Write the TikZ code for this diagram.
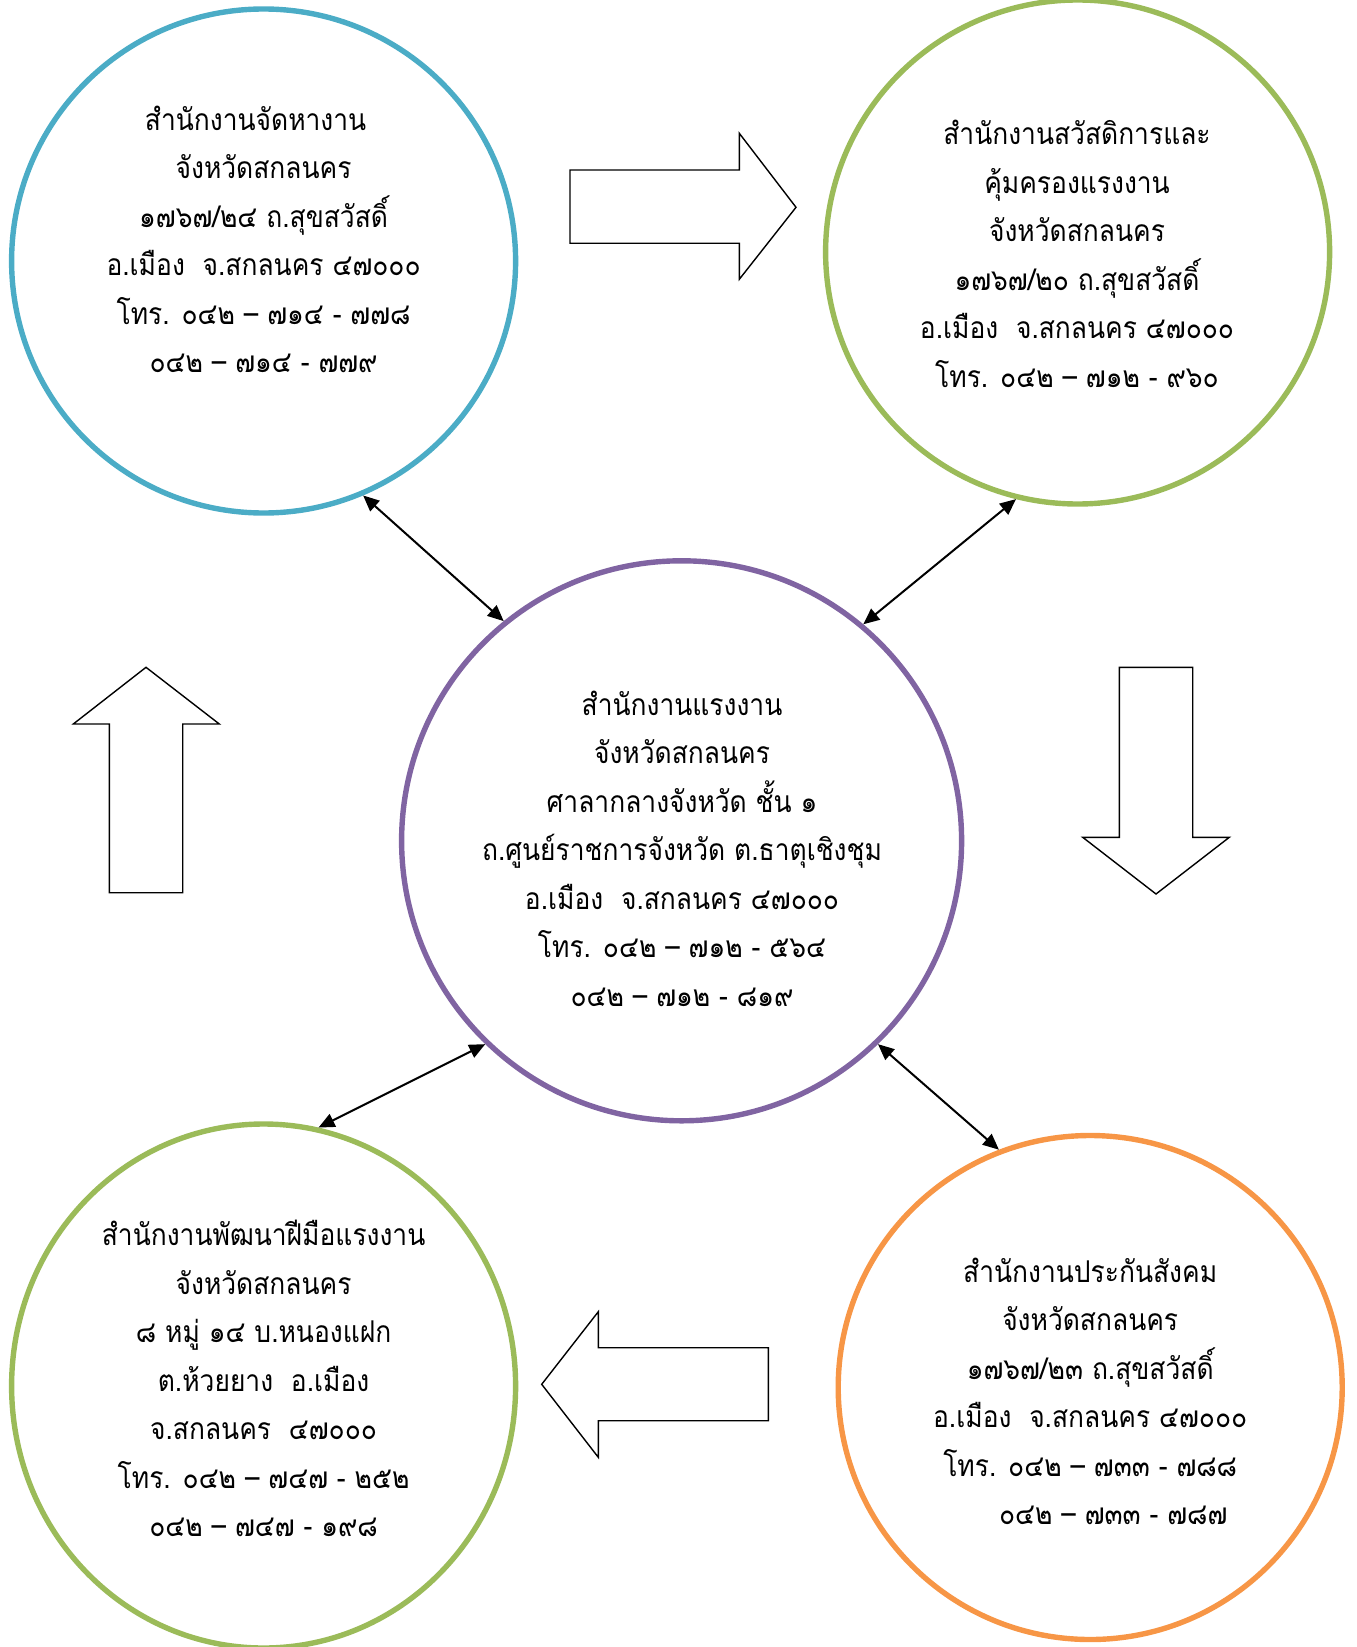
\documentclass[tikz,border=0pt]{standalone}
\usepackage{fontspec}
\newfontfamily\thaifont[Script=Thai, FakeStretch=0.88]{Loma}
\usetikzlibrary{arrows.meta, shapes.geometric}
\definecolor{jobblue}{HTML}{4BACC6}
\definecolor{leafgreen}{HTML}{9BBB59}
\definecolor{labpurple}{HTML}{8064A2}
\definecolor{ssoorange}{HTML}{F79646}

\begin{document}
\begin{tikzpicture}[x=0.5pt, y=-0.5pt,
        office/.style={circle, line width=2.7pt, minimum size=252pt, inner sep=0pt},
        addr/.style={align=center, inner sep=0pt, font=\thaifont\fontsize{15}{24.25}\selectfont},
        link/.style={{Triangle[length=8pt,width=7pt]}-{Triangle[length=8pt,width=7pt]}, line width=1pt},
        flow/.style={line width=0.7pt, line join=miter}]
        \useasboundingbox (0,0) rectangle (1356,1647);
        %
        \node[office, draw=jobblue] (jobs) at (263.6,261) {};
        \node[office, draw=leafgreen] (welfare) at (1077.6,252) {};
        \node[office, draw=labpurple, minimum size=280pt] (labour) at (681.6,840.8) {};
        \node[office, ellipse, draw=leafgreen, minimum width=252pt, minimum height=262pt] (skill) at (263.6,1386) {};
        \node[office, draw=ssoorange] (sso) at (1090.2,1387.5) {};
        %
        \node[addr] (jobstxt) at (263.6,239.5) {สำนักงานจัดหางาน\hspace*{8pt}\\ จังหวัดสกลนคร\\ ๑๗๖๗/๒๔ ถ.สุขสวัสดิ์\\ อ.เมือง~~จ.สกลนคร ๔๗๐๐๐\\ โทร. ๐๔๒ – ๗๑๔ - ๗๗๘\\ ๐๔๒ – ๗๑๔ - ๗๗๙};
        \node[addr] (welfaretxt) at (1077,254) {สำนักงานสวัสดิการและ\\ คุ้มครองแรงงาน\\ จังหวัดสกลนคร\\ ๑๗๖๗/๒๐ ถ.สุขสวัสดิ์\\ อ.เมือง~~จ.สกลนคร ๔๗๐๐๐\\ โทร. ๐๔๒ – ๗๑๒ - ๙๖๐};
        \node[addr] (labourtxt) at (682,848.5) {สำนักงานแรงงาน\\ จังหวัดสกลนคร\\ ศาลากลางจังหวัด ชั้น ๑\\ ถ.ศูนย์ราชการจังหวัด ต.ธาตุเชิงชุม\\ อ.เมือง~~จ.สกลนคร ๔๗๐๐๐\\ โทร. ๐๔๒ – ๗๑๒ - ๕๖๔\\ ๐๔๒ – ๗๑๒ - ๘๑๙};
        \node[addr] (skilltxt) at (263.6,1378.5) {สำนักงานพัฒนาฝีมือแรงงาน\\ จังหวัดสกลนคร\\ ๘ หมู่ ๑๔ บ.หนองแฝก\\ ต.ห้วยยาง~~อ.เมือง\\ จ.สกลนคร~~๔๗๐๐๐\\ โทร. ๐๔๒ – ๗๔๗ - ๒๕๒\\ ๐๔๒ – ๗๔๗ - ๑๙๘};
        \node[addr] (ssotxt) at (1090.2,1391.5) {สำนักงานประกันสังคม\\ จังหวัดสกลนคร\\ ๑๗๖๗/๒๓ ถ.สุขสวัสดิ์\\ อ.เมือง~~จ.สกลนคร ๔๗๐๐๐\\ โทร. ๐๔๒ – ๗๓๓ - ๗๘๘\\ \hspace*{23pt}๐๔๒ – ๗๓๓ - ๗๘๗};
        %
        \draw[link] (jobs.-67.6) -- (labour.129.7);
        \draw[link] (welfare.-104.9) -- (labour.50.7);
        \draw[link] (skill.78.3) -- (labour.-134.7);
        \draw[link] (labour.-46.1) -- (sso.111.6);
        %
        \draw[flow] (570,170) -- (739.3,170) -- (739.3,133.3) -- (796,207.3) -- (739.3,279.3) -- (739.3,243.3) -- (570,243.3) -- cycle;
        \draw[flow] (1119.3,667.3) -- (1192.7,667.3) -- (1192.7,837.3) -- (1229.3,837.3) -- (1156,894) -- (1082.7,837.3) -- (1119.3,837.3) -- cycle;
        \draw[flow] (768.3,1347.7) -- (598.3,1347.7) -- (598.3,1311.7) -- (541.7,1384.3) -- (598.3,1457.3) -- (598.3,1420.7) -- (768.3,1420.7) -- cycle;
        \draw[flow] (109.3,892.7) -- (109.3,724) -- (73.3,724) -- (146,667.3) -- (219.3,724) -- (182.7,724) -- (182.7,892.7) -- cycle;
\end{tikzpicture}
\end{document}
